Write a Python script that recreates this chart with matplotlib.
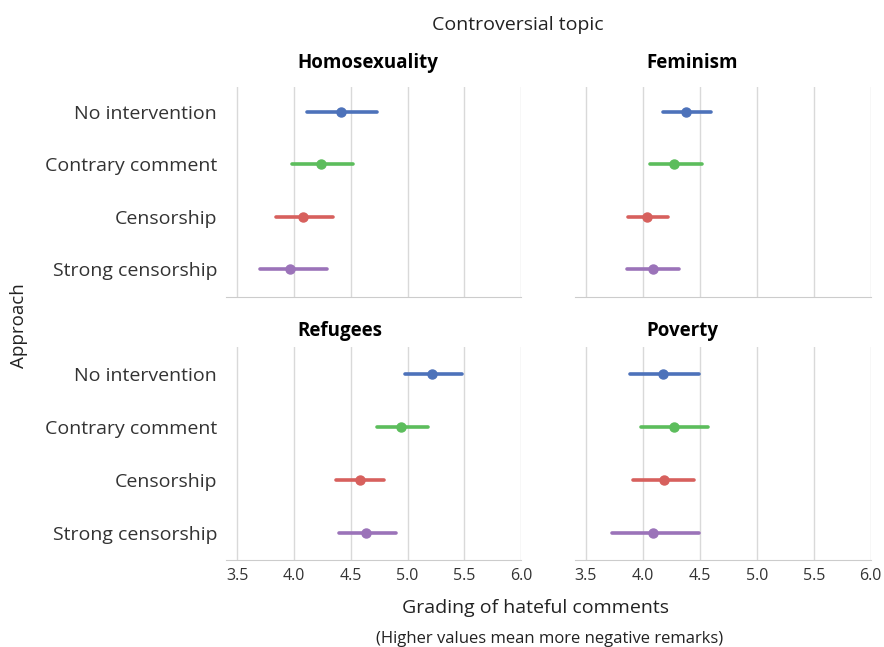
import matplotlib.pyplot as plt

approaches = ["No intervention", "Contrary comment", "Censorship", "Strong censorship"]
colors = ["#4D72BA", "#5CBD5C", "#D7605D", "#9B73B9"]
topics = ["Homosexuality", "Feminism", "Refugees", "Poverty"]

# mean, lower, upper for each approach, per topic
homo_mean = [4.41, 4.24, 4.08, 3.965]
homo_lo = [4.11, 3.98, 3.84, 3.70]
homo_hi = [4.73, 4.52, 4.34, 4.29]

fem_mean = [4.375, 4.27, 4.04, 4.085]
fem_lo = [4.18, 4.06, 3.87, 3.86]
fem_hi = [4.595, 4.515, 4.22, 4.32]

ref_mean = [5.215, 4.945, 4.58, 4.635]
ref_lo = [4.98, 4.73, 4.37, 4.395]
ref_hi = [5.48, 5.18, 4.795, 4.895]

pov_mean = [4.18, 4.275, 4.185, 4.085]
pov_lo = [3.885, 3.98, 3.915, 3.725]
pov_hi = [4.495, 4.575, 4.445, 4.49]

data = [
    (homo_mean, homo_lo, homo_hi),
    (fem_mean, fem_lo, fem_hi),
    (ref_mean, ref_lo, ref_hi),
    (pov_mean, pov_lo, pov_hi),
]

plt.rcParams["font.family"] = ["Open Sans", "DejaVu Sans"]

fig = plt.figure(figsize=(8.84, 6.47), dpi=100)
boxes = [
    [0.2557, 0.541, 0.3337, 0.3245],
    [0.650, 0.541, 0.335, 0.3245],
    [0.2557, 0.1345, 0.3337, 0.3292],
    [0.650, 0.1345, 0.335, 0.3292],
]

for i, (topic, (mean, lo, hi)) in enumerate(zip(topics, data)):
    ax = fig.add_axes(boxes[i])
    for j in range(len(approaches)):
        ax.plot([lo[j], hi[j]], [j, j], color=colors[j], lw=2.6,
                solid_capstyle="round", zorder=3)
        ax.plot(mean[j], j, "o", color=colors[j], ms=6.5, zorder=4)
    ax.set_xlim(3.4, 6.0)
    if i < 2:
        ax.set_ylim(3.53, -0.47)
    else:
        ax.set_ylim(3.5, -0.5)
    ax.set_xticks([3.5, 4.0, 4.5, 5.0, 5.5, 6.0])
    ax.set_yticks(range(len(approaches)))
    ax.grid(axis="x", color="#d9d9d9", lw=1)
    ax.set_axisbelow(True)
    for s in ["top", "right", "left"]:
        ax.spines[s].set_visible(False)
    ax.spines["bottom"].set_color("#cccccc")
    ax.tick_params(length=0, colors="#333333")
    ax.tick_params(axis="x", labelsize=11.5, pad=6)
    ax.tick_params(axis="y", labelsize=14, pad=6.5)
    if i % 2 == 0:
        ax.set_yticklabels(approaches)
    else:
        ax.set_yticklabels([])
    if i < 2:
        ax.set_xticklabels([])
        ax.set_title(topic, fontsize=13.5, fontweight="bold", pad=14,
                     loc="left", x=0.242)
    else:
        ax.set_title(topic, fontsize=13.5, fontweight="bold", pad=8,
                     loc="left", x=0.242)

fig.text(0.586, 0.962, "Controversial topic", ha="center", va="center",
         fontsize=14, color="#222222")
fig.text(0.021, 0.497, "Approach", rotation=90, ha="center", va="center",
         fontsize=13.5, color="#222222")
fig.text(0.606, 0.06, "Grading of hateful comments", ha="center", va="center",
         fontsize=14, color="#222222")
fig.text(0.622, 0.013, "(Higher values mean more negative remarks)",
         ha="center", va="center", fontsize=12, color="#222222")

fig.savefig("out.png", dpi=100)
